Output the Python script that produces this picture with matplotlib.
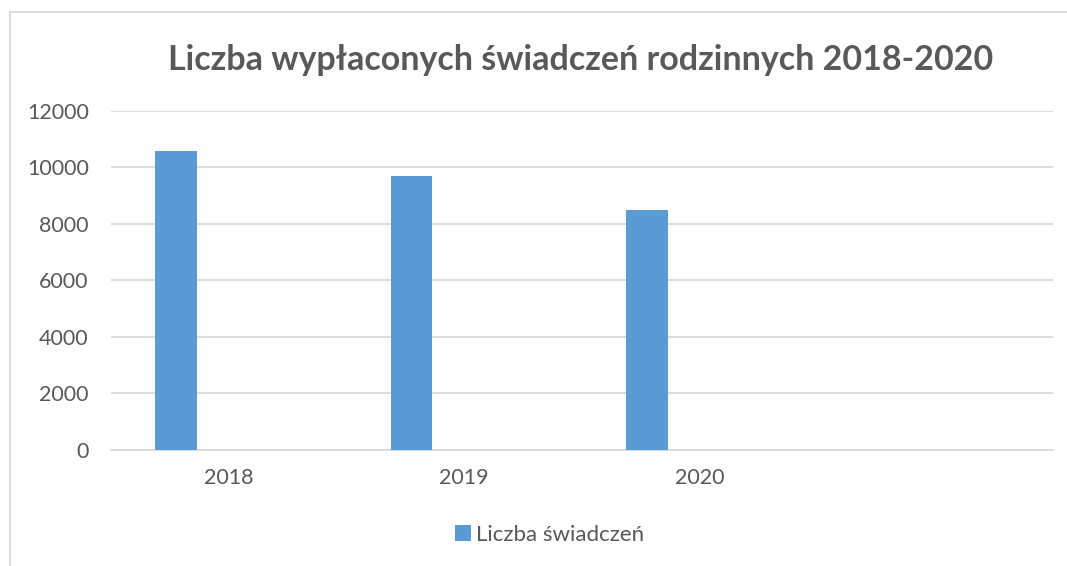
import matplotlib
matplotlib.use("Agg")
import matplotlib.pyplot as plt
from matplotlib.lines import Line2D
from matplotlib.patches import Patch
import numpy as np

# Data
categories = ["2018", "2019", "2020"]
values = [10580, 9700, 8500]
series_name = "Liczba świadczeń"
title = "Liczba wypłaconych świadczeń rodzinnych 2018-2020"
y_ticks = [0, 2000, 4000, 6000, 8000, 10000, 12000]

BAR = "#5B9BD5"
GRID = "#D9D9D9"
TXT = "#595959"

plt.rcParams["font.family"] = ["Lato", "DejaVu Sans"]

W, H = 1067, 566
fig = plt.figure(figsize=(W / 100, H / 100), dpi=100)
fig.patch.set_facecolor("white")

ax = fig.add_axes([111 / W, 1 - 449.7 / H, (1053 - 111) / W, (449.7 - 111) / H])

x = np.arange(len(categories))
n_slots = 4  # chart has one extra empty category slot
ax.bar(x - 0.224, values, width=0.176, color=BAR, zorder=3)

ax.set_xlim(-0.5, n_slots - 0.5)
ax.set_ylim(0, 12000)
ax.set_yticks(y_ticks)
ax.set_yticklabels([str(v) for v in y_ticks])
ax.set_xticks(x)
ax.set_xticklabels(categories)

ax.grid(axis="y", color=GRID, linewidth=1.3, zorder=0)
ax.set_axisbelow(True)
for s in ["left", "right", "top"]:
    ax.spines[s].set_visible(False)
ax.spines["bottom"].set_color(GRID)
ax.spines["bottom"].set_linewidth(1.3)
ax.tick_params(axis="y", length=0, pad=16, labelsize=15.5, labelcolor=TXT)
ax.tick_params(axis="x", length=0, pad=13.5, labelsize=15.5, labelcolor=TXT)

fig.text(581 / W, 1 - 60 / H, title, ha="center", va="center",
         fontsize=24.5, fontweight="bold", color=TXT)

handles = [Patch(facecolor=BAR, edgecolor="none", label=series_name)]
fig.legend(handles=handles, loc="center", bbox_to_anchor=(550 / W, 1 - 535 / H),
           frameon=False, fontsize=16, labelcolor=TXT, handlelength=0.7,
           handleheight=0.7, handletextpad=0.25)

# chart frame
fig.add_artist(Line2D([10 / W, 10 / W], [0, 1 - 12 / H], color=GRID, lw=1.3,
                      transform=fig.transFigure))
fig.add_artist(Line2D([10 / W, 1], [1 - 12 / H, 1 - 12 / H], color=GRID, lw=1.3,
                      transform=fig.transFigure))

fig.savefig("out.png", dpi=100, facecolor="white")
